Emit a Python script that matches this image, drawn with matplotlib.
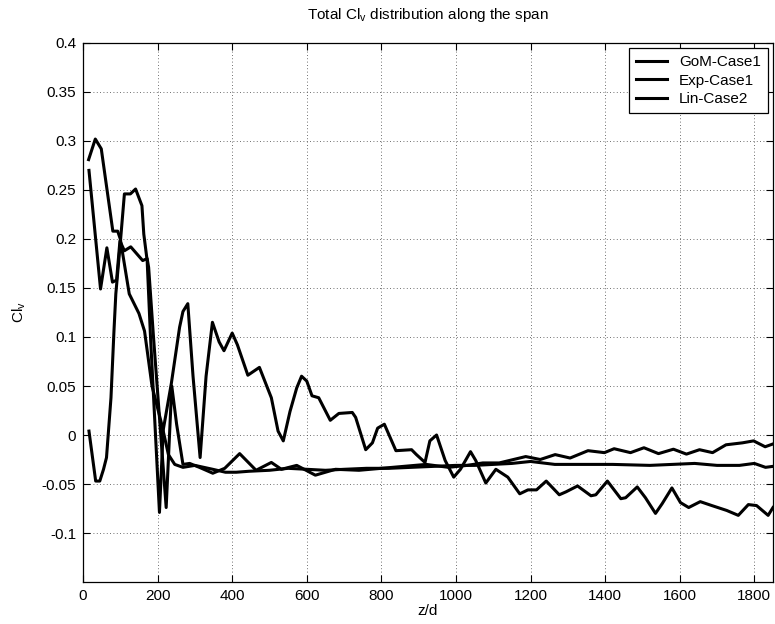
import matplotlib
matplotlib.use("Agg")
import matplotlib.pyplot as plt

# ---- data ----
gom_x = [15, 33, 49, 80, 93, 100, 124, 150, 165, 185, 211, 229, 246, 268, 300, 348, 382, 411, 445,
         500, 550, 600, 650, 700, 760, 820, 880, 940, 1000, 1050, 1100, 1150, 1200, 1265, 1340,
         1420, 1520, 1580, 1640, 1700, 1760, 1800, 1830, 1850]
gom_y = [0.281, 0.302, 0.292, 0.208, 0.208, 0.200, 0.144, 0.124, 0.106, 0.050, 0.011, -0.020, -0.030,
         -0.033, -0.031, -0.035, -0.038, -0.038, -0.037, -0.036, -0.034, -0.035, -0.036, -0.035,
         -0.034, -0.034, -0.033, -0.032, -0.031, -0.031, -0.030, -0.029, -0.027, -0.030, -0.030,
         -0.030, -0.031, -0.030, -0.029, -0.031, -0.031, -0.029, -0.033, -0.032]

exp_x = [16, 47, 64, 79, 90, 99, 111, 128, 160, 172, 176, 189, 223, 238, 251, 268, 286, 312, 348,
         380, 420, 464, 505, 532, 573, 623, 677, 740, 800, 860, 920, 980, 1030, 1072, 1116, 1187,
         1226, 1266, 1306, 1354, 1398, 1424, 1468, 1504, 1543, 1583, 1618, 1653, 1688, 1724, 1768,
         1798, 1829, 1851]
exp_y = [0.270, 0.149, 0.191, 0.156, 0.158, 0.198, 0.188, 0.192, 0.178, 0.180, 0.171, 0.100, -0.074,
         0.050, 0.011, -0.030, -0.029, -0.033, -0.039, -0.034, -0.019, -0.036, -0.028, -0.035,
         -0.031, -0.041, -0.035, -0.036, -0.034, -0.032, -0.030, -0.033, -0.031, -0.0285, -0.0285,
         -0.022, -0.025, -0.020, -0.0235, -0.016, -0.018, -0.014, -0.018, -0.013, -0.019, -0.0145,
         -0.0195, -0.015, -0.018, -0.010, -0.008, -0.006, -0.012, -0.009]

lin_x = [16, 34, 45, 55, 63, 75, 83, 88, 100, 111, 127, 141, 158, 163, 172, 181, 205, 215, 237, 259,
         268, 281, 295, 314, 330, 347, 365, 378, 400, 414, 442, 473, 505, 523, 537, 555, 573, 586,
         600, 614, 632, 663, 686, 722, 731, 758, 776, 790, 808, 839, 881, 894, 917, 930, 948, 971,
         994, 1012, 1039, 1053, 1080, 1107, 1139, 1171, 1193, 1216, 1242, 1277, 1295, 1326, 1362,
         1375, 1406, 1442, 1455, 1486, 1508, 1535, 1553, 1579, 1602, 1624, 1655, 1686, 1726, 1757,
         1784, 1806, 1837, 1850]
lin_y = [0.004, -0.047, -0.047, -0.035, -0.023, 0.038, 0.106, 0.144, 0.196, 0.246, 0.246, 0.251,
         0.234, 0.205, 0.178, 0.100, -0.079, 0.005, 0.053, 0.110, 0.126, 0.134, 0.060, -0.023,
         0.060, 0.115, 0.095, 0.086, 0.104, 0.092, 0.061, 0.069, 0.038, 0.004, -0.006, 0.024, 0.048,
         0.060, 0.055, 0.040, 0.038, 0.015, 0.022, 0.023, 0.018, -0.015, -0.008, 0.007, 0.011,
         -0.016, -0.015, -0.020, -0.028, -0.006, 0.000, -0.026, -0.043, -0.035, -0.017, -0.026,
         -0.049, -0.035, -0.043, -0.060, -0.056, -0.056, -0.047, -0.061, -0.058, -0.052, -0.062,
         -0.061, -0.047, -0.065, -0.064, -0.053, -0.064, -0.080, -0.070, -0.054, -0.069, -0.074,
         -0.068, -0.072, -0.077, -0.082, -0.071, -0.072, -0.082, -0.074]

series_names = ["GoM-Case1", "Exp-Case1", "Lin-Case2"]
y_ticks = [-0.1, -0.05, 0, 0.05, 0.1, 0.15, 0.2, 0.25, 0.3, 0.35, 0.4]
y_ticklabels = ["-0.1", "-0.05", "0", "0.05", "0.1", "0.15", "0.2", "0.25", "0.3", "0.35", "0.4"]
x_ticks = [0, 200, 400, 600, 800, 1000, 1200, 1400, 1600, 1800]

plt.rcParams["font.family"] = ["Liberation Sans", "DejaVu Sans"]

fig = plt.figure(figsize=(7.75, 6.24), dpi=100)
ax = fig.add_axes([0.1071, 0.0673, 0.8903, 0.8638])

for xs, ys, name in zip([gom_x, exp_x, lin_x], [gom_y, exp_y, lin_y], series_names):
    ax.plot(xs, ys, color="black", linewidth=2.2, label=name)

ax.set_xlim(0, 1850)
ax.set_ylim(-0.15, 0.4)
ax.set_xticks(x_ticks)
ax.set_yticks(y_ticks)
ax.set_yticklabels(y_ticklabels)
ax.tick_params(direction="in", top=True, right=True, labelsize=11, length=5, width=0.8, pad=5)
ax.grid(True, linestyle=(0, (1, 3)), color="0.25", linewidth=0.6)
for s in ax.spines.values():
    s.set_linewidth(0.9)

ax.set_xlabel("z/d", fontsize=11, labelpad=1)
ax.set_ylabel("Cl$_\\mathregular{v}$", fontsize=11, labelpad=10)
ax.set_title("Total Cl$_\\mathregular{v}$ distribution along the span", fontsize=11, pad=17)

leg = ax.legend(loc="upper right", fontsize=11, fancybox=False, edgecolor="black",
                framealpha=1, borderaxespad=0.35, handlelength=2.0, borderpad=0.45,
                labelspacing=0.3)
leg.get_frame().set_linewidth(0.9)

fig.savefig("out.png", dpi=100)
